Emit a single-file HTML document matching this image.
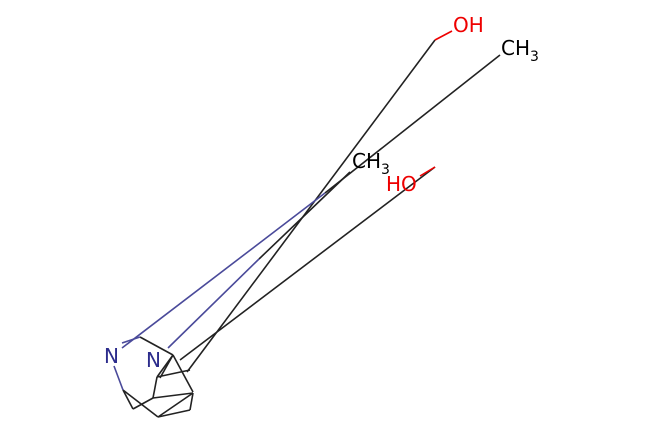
<!DOCTYPE html>
<html><head><style>
html,body{margin:0;padding:0;background:#fff;width:650px;height:433px;overflow:hidden}
text{font-family:"DejaVu Sans","Liberation Sans",sans-serif;font-size:20px}
</style></head><body>
<svg width="650" height="433" xmlns="http://www.w3.org/2000/svg">
<g stroke="#222" stroke-width="1.6" fill="none">
<line x1="325" y1="193" x2="500" y2="55"/>
<line x1="259" y1="259" x2="350" y2="172"/>
<line x1="435" y1="40" x2="187" y2="372"/>
<line x1="435" y1="40" x2="452" y2="31" stroke="#e00"/>
<line x1="435" y1="167" x2="180" y2="360"/>
<line x1="435" y1="167" x2="420" y2="176" stroke="#e00"/>
<line x1="140" y1="337" x2="173" y2="355"/>
<line x1="173" y1="355" x2="193" y2="392"/>
<line x1="173" y1="355" x2="157" y2="377"/>
<line x1="157" y1="377" x2="190" y2="370"/>
<line x1="157" y1="377" x2="153" y2="398"/>
<line x1="153" y1="398" x2="193" y2="393"/>
<line x1="123" y1="390" x2="133" y2="409"/>
<line x1="133" y1="409" x2="153" y2="398"/>
<line x1="123" y1="390" x2="158" y2="417"/>
<line x1="158" y1="417" x2="193" y2="393"/>
<line x1="158" y1="417" x2="190" y2="410"/>
<line x1="190" y1="410" x2="193" y2="393"/>
<line x1="173" y1="355" x2="160" y2="378"/>
</g>
<g stroke="#4a4a9a" stroke-width="1.6">
<line x1="122" y1="348" x2="325" y2="193"/>
<line x1="168" y1="348" x2="259" y2="259"/>
<line x1="122" y1="343" x2="140" y2="337"/>
<line x1="114" y1="366" x2="123" y2="390"/>
</g>
<text x="104" y="363" fill="#2c2c8c">N</text>
<text x="146" y="367" fill="#2c2c8c">N</text>
<text x="453" y="32" fill="#e00">OH</text>
<text x="501" y="55" fill="#000">CH<tspan font-size="14" dy="6">3</tspan></text>
<text x="352" y="168" fill="#000">CH<tspan font-size="14" dy="6">3</tspan></text>
<text x="386" y="191" fill="#e00">HO</text>
</svg>
</body></html>
